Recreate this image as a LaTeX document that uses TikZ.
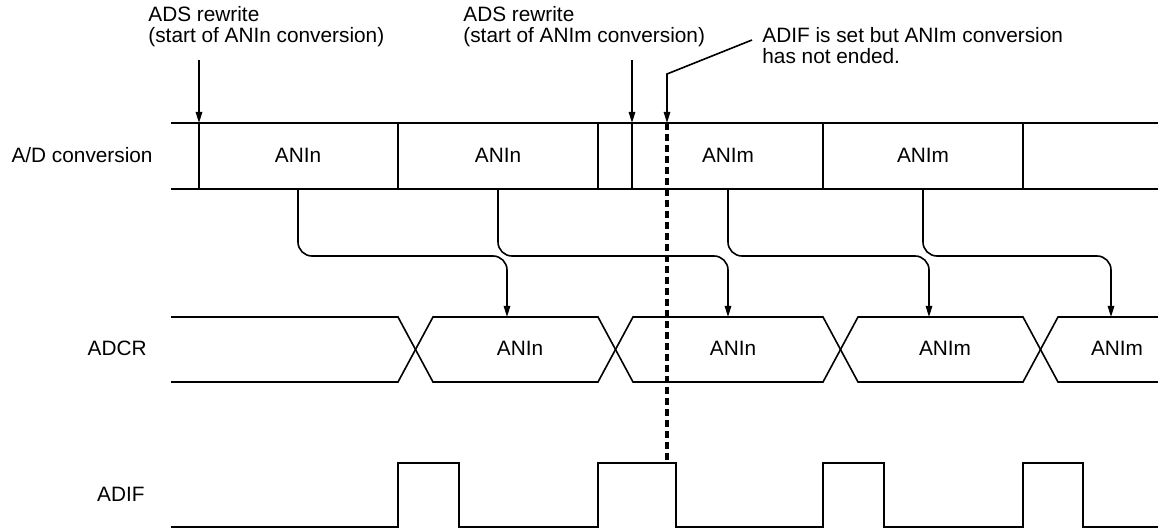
\documentclass[tikz,border=0pt]{standalone}
\usepackage{fontspec}
\setmainfont{Liberation Sans}
\usetikzlibrary{arrows.meta}
\tikzset{
  sig/.style={line width=0.8pt},
  tip/.style={-{Triangle[length=5.5pt,width=3.2pt]}},
  conn/.style={sig, tip, rounded corners=7pt},
  lbl/.style={inner sep=0pt, font=\fontsize{10.4pt}{10.5pt}\selectfont},
}
\begin{document}
\begin{tikzpicture}[x=0.5pt, y=-0.5pt]
\useasboundingbox (0,0) rectangle (1158,529);

% notes at the top
\node[lbl, anchor=north west, align=left] (rwn) at (148,6) {ADS rewrite\\(start of ANIn conversion)};
\node[lbl, anchor=north west, align=left] (rwm) at (463,6) {ADS rewrite\\(start of ANIm conversion)};
\node[lbl, anchor=north west, align=left] (note) at (762,27) {ADIF is set but ANIm conversion\\has not ended.};

% row names
\node[lbl, anchor=base east] (adc) at (153,163) {A/D conversion};
\node[lbl, anchor=base east] (adcr) at (147,356) {ADCR};
\node[lbl, anchor=base east] (adif) at (145,502) {ADIF};

% A/D conversion row
\draw[sig] (171,123) -- (1158,123);
\draw[sig] (171,189) -- (1158,189);
\foreach \x in {199,398,598,632,823,1023}
  \draw[sig] (\x,123) -- (\x,189);
\node[lbl, anchor=base] (c1) at (298,163) {ANIn};
\node[lbl, anchor=base] (c2) at (498,163) {ANIn};
\node[lbl, anchor=base] (c3) at (728,163) {ANIm};
\node[lbl, anchor=base] (c4) at (923,163) {ANIm};

% ADCR row
\draw[sig] (171,317) -- (398,317) -- (433,382) -- (598,382) -- (633,317) -- (823,317)
  -- (858,382) -- (1023,382) -- (1058,317) -- (1158,317);
\draw[sig] (171,382) -- (398,382) -- (433,317) -- (598,317) -- (633,382) -- (823,382)
  -- (858,317) -- (1023,317) -- (1058,382) -- (1158,382);
\node[lbl, anchor=base] (r1) at (520,356) {ANIn};
\node[lbl, anchor=base] (r2) at (733,356) {ANIn};
\node[lbl, anchor=base] (r3) at (945,356) {ANIm};
\node[lbl, anchor=base] (r4) at (1117,356) {ANIm};

% ADIF row
\draw[sig] (171,527) -- (398,527) -- (398,463) -- (459,463) -- (459,527) -- (598,527)
  -- (598,463) -- (676,463) -- (676,527) -- (823,527) -- (823,463) -- (884,463)
  -- (884,527) -- (1023,527) -- (1023,463) -- (1083,463) -- (1083,527) -- (1158,527);

% result transfer A/D -> ADCR
\coordinate (bus) at (0,256);
\foreach \s/\e/\n in {298/507/1, 498/728/2, 728/929/3, 923/1111/4} {
  \coordinate (s\n) at (\s,189);
  \coordinate (e\n) at (\e,317);
  \draw[conn] (s\n) -- (s\n |- bus) -| (e\n);
}

% ADS rewrite arrows
\coordinate (w1) at (199,60);
\coordinate (w2) at (632,60);
\draw[sig, tip] (w1) -- (199,123);
\draw[sig, tip] (w2) -- (632,123);

% ADIF set while ANIm still running
\coordinate (n0) at (752,40);
\coordinate (dtop) at (667,123);
\coordinate (dbot) at (667,463);
\draw[sig, tip] (n0) -- (667,74) -- (dtop);
\draw[line width=1.6pt, dash pattern=on 3.5pt off 2pt] (dtop) -- (dbot);
\end{tikzpicture}
\end{document}
